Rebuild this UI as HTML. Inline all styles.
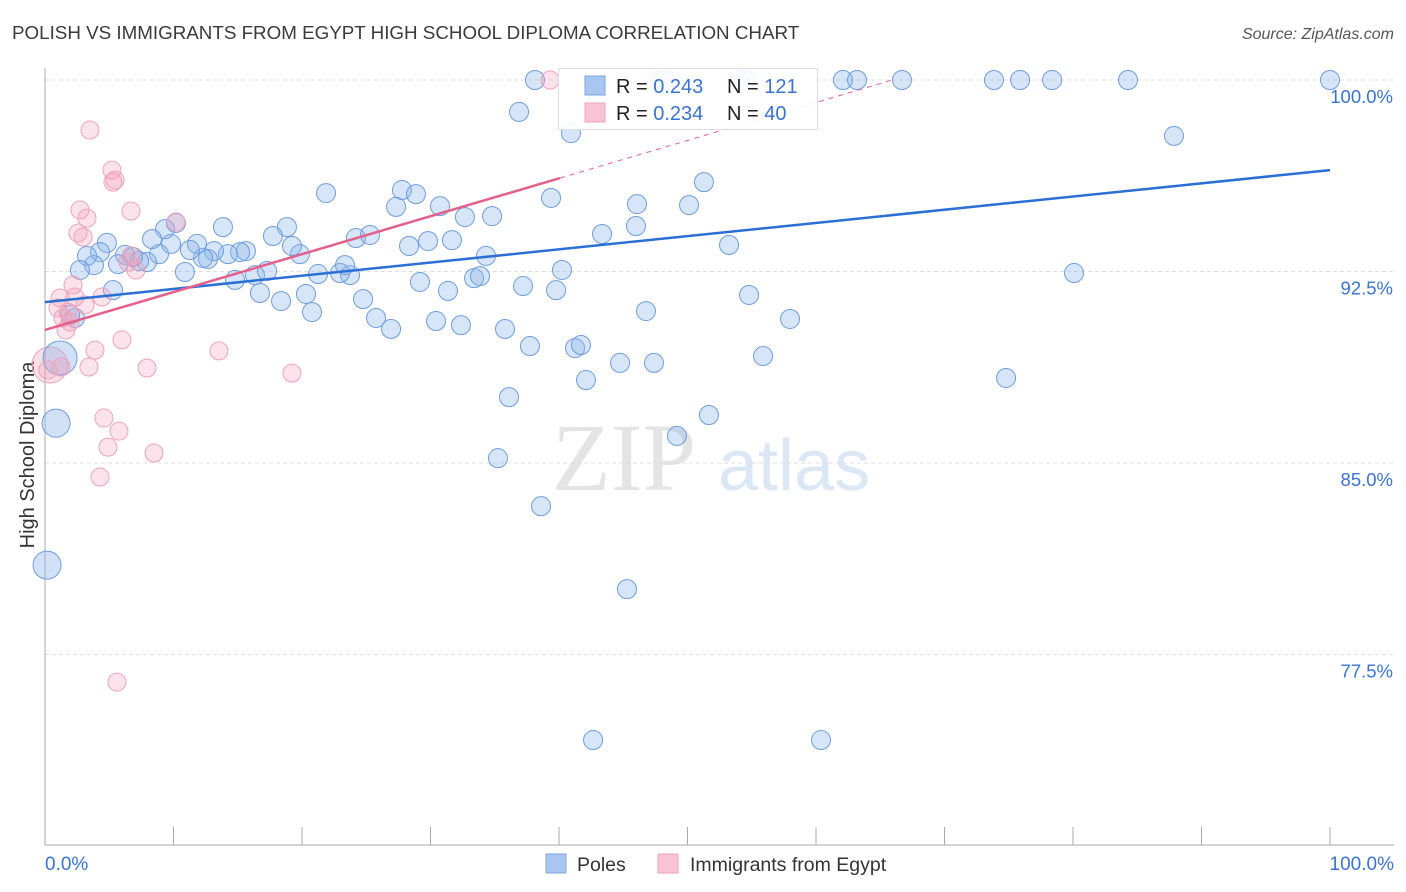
<!DOCTYPE html>
<html><head><meta charset="utf-8"><style>
body{margin:0;background:#fff;font-family:"Liberation Sans",sans-serif;}
svg{display:block}
</style></head><body>
<svg id="c" width="1406" height="892">
<text x="12" y="39" font-size="18.8" fill="#3a3a3a">POLISH VS IMMIGRANTS FROM EGYPT HIGH SCHOOL DIPLOMA CORRELATION CHART</text>
<text x="1394" y="39" font-size="16" fill="#555" text-anchor="end" font-style="italic">Source: ZipAtlas.com</text>
<text x="34" y="455" font-size="20" fill="#333" text-anchor="middle" transform="rotate(-90 34 455)">High School Diploma</text>
<g><text x="552" y="490" font-size="96" font-family="Liberation Serif,serif" fill="#e4e4e4">ZIP</text><text x="718" y="490" font-size="72" fill="#dce7f6">atlas</text></g>
<g id="grid"></g><g id="axes"></g><g id="pts"></g><g id="lines"></g>
<g>
<rect x="558.5" y="68.5" width="259" height="61" fill="#fff" fill-opacity="0.9" stroke="#ddd"/>
<rect x="585" y="76" width="20" height="19" fill="#a9c6f0" stroke="#7aa6e0"/>
<rect x="585" y="103" width="20" height="19" fill="#f8c4d3" stroke="#eea3b9"/>
<text x="616" y="93" font-size="20" fill="#222">R = <tspan fill="#3a73d0">0.243</tspan><tspan x="727">N = </tspan><tspan fill="#3a73d0">121</tspan></text>
<text x="616" y="120" font-size="20" fill="#222">R = <tspan fill="#3a73d0">0.234</tspan><tspan x="727">N = </tspan><tspan fill="#3a73d0">40</tspan></text>
</g>
<g>
<rect x="546" y="854" width="20" height="19" fill="#a9c6f0" stroke="#7aa6e0"/>
<text x="577" y="871" font-size="19.5" fill="#333">Poles</text>
<rect x="658" y="854" width="20" height="19" fill="#f8c4d3" stroke="#eea3b9"/>
<text x="690" y="871" font-size="19.5" fill="#333">Immigrants from Egypt</text>
</g>
</svg>
<script>
const yTicks=[100,92.5,85,77.5];
const yTickLabels=["100.0%","92.5%","85.0%","77.5%"];
const xTicks=[0,10,20,30,40,50,60,70,80,90,100];
const xEndLabels=["0.0%","100.0%"];
const polesPx=[[535,80],[660,80],[665,80],[740,80],[745,80],[843,80],[857,80],[902,80],[994,80],[1020,80],[1052,80],[1128,80],[1330,80],[519,112],[571,133],[1174,136],[1074,273],[1006,378],[763,356],[790,319],[749,295],[729,245],[704,182],[689,205],[637,204],[636,226],[602,234],[551,198],[562,270],[556,290],[523,286],[505,329],[530,346],[575,348],[581,345],[586,380],[620,363],[654,363],[646,311],[509,397],[498,458],[541,506],[627,589],[593,740],[821,740],[709,415],[677,436],[474,278],[480,276],[486,256],[461,325],[448,291],[436,321],[420,282],[391,329],[376,318],[363,299],[350,275],[340,273],[345,265],[318,274],[312,312],[306,294],[281,301],[260,293],[235,280],[255,275],[267,271],[300,254],[292,246],[287,227],[273,236],[246,251],[240,252],[228,254],[214,251],[208,259],[203,258],[197,244],[190,250],[185,272],[171,244],[165,229],[176,223],[159,254],[152,239],[147,262],[139,261],[133,257],[125,255],[118,264],[107,243],[100,252],[94,265],[87,256],[80,270],[113,290],[75,318],[70,315],[223,227],[326,193],[402,190],[416,194],[396,207],[440,206],[465,217],[492,216],[356,238],[370,235],[409,246],[428,241],[452,240]];
const polesBigPx=[[60,358,17],[56,423,14],[47,565,14]];
const egyptPx=[[90,130],[112,170],[115,180],[113,182],[131,211],[80,210],[87,218],[78,233],[83,237],[131,256],[136,270],[128,262],[176,222],[73,285],[75,297],[60,298],[58,308],[63,318],[68,312],[66,330],[70,322],[102,297],[85,305],[48,370],[95,350],[61,367],[89,367],[122,340],[219,351],[147,368],[292,373],[104,418],[119,431],[108,447],[154,453],[100,477],[117,682],[550,80]];
const egyptBigPx=[[50,365,18]];
const toX=p=>+((p-45)/12.85).toFixed(2), toY=p=>+(100-(p-80)/25.53).toFixed(2);
const polesX=polesPx.map(d=>toX(d[0])), polesY=polesPx.map(d=>toY(d[1]));
const polesBigX=polesBigPx.map(d=>toX(d[0])), polesBigY=polesBigPx.map(d=>toY(d[1]));
const egyptX=egyptPx.map(d=>toX(d[0])), egyptY=egyptPx.map(d=>toY(d[1]));
const egyptBigX=egyptBigPx.map(d=>toX(d[0])), egyptBigY=egyptBigPx.map(d=>toY(d[1]));
const polesTrend=[91.30,96.47];
const egyptTrend=[90.21,96.16];
const egyptTrendSolidEnd=40.08;

const X=v=>45+v*12.85, Y=v=>80+(100-v)*25.533;
const NS="http://www.w3.org/2000/svg";
function mk(t,a,p){const e=document.createElementNS(NS,t);for(const k in a)e.setAttribute(k,a[k]);p.appendChild(e);return e;}
const grid=document.getElementById('grid'),axes=document.getElementById('axes'),pts=document.getElementById('pts'),lines=document.getElementById('lines');
yTicks.forEach((t,i)=>{
 const l=mk('line',{x1:45,x2:1394,y1:Y(t),y2:Y(t),stroke:'#ddd','stroke-dasharray':'4,3'},grid);
 
 
 const tx=mk('text',{x:1393,y:Y(t)+23,'font-size':18.5,fill:'#3a73d0','text-anchor':'end'},grid);
 tx.textContent=yTickLabels[i];
 
 
});
const ya=mk('line',{x1:45,x2:45,y1:68,y2:845,stroke:'#aaa'},axes);


const xa=mk('line',{x1:45,x2:1394,y1:845,y2:845,stroke:'#aaa'},axes);


xTicks.forEach(t=>{
 const l=mk('line',{x1:X(t),x2:X(t),y1:827,y2:845,stroke:'#aaa'},axes);
 
 
});
[[0,'start',45],[100,'end',1394]].forEach((d,i)=>{
 const tx=mk('text',{x:d[2],y:870,'font-size':19,fill:'#3a73d0','text-anchor':d[1]},axes);
 tx.textContent=xEndLabels[i];
 
 
});
function dots(xs,ys,r,fill,stroke,name){xs.forEach((x,i)=>{
 const c=mk('circle',{cx:X(x),cy:Y(ys[i]),r:Array.isArray(r)?r[i]:r,fill:fill,stroke:stroke,'stroke-width':1},pts);
 
 
});}
dots(egyptBigX,egyptBigY,egyptBigPx.map(d=>d[2]),'rgba(240,150,175,0.3)','#eea3b9','egypt-point');
dots(polesBigX,polesBigY,polesBigPx.map(d=>d[2]),'rgba(140,180,235,0.4)','#6d9de0','poles-point');
dots(polesX,polesY,9.5,'rgba(140,180,235,0.35)','#6d9de0','poles-point');
dots(egyptX,egyptY,9,'rgba(245,160,185,0.3)','#eea3b9','egypt-point');
const bt=mk('line',{x1:X(0),y1:Y(polesTrend[0]),x2:X(100),y2:Y(polesTrend[1]),stroke:'#2a6fd6','stroke-width':2.5},lines);


const slope=(egyptTrend[1]-egyptTrend[0])/egyptTrendSolidEnd;
const pt=mk('line',{x1:X(0),y1:Y(egyptTrend[0]),x2:X(egyptTrendSolidEnd),y2:Y(egyptTrend[1]),stroke:'#e4608a','stroke-width':2.5},lines);


const xEnd=(100-egyptTrend[0])/slope;
const pd=mk('line',{x1:X(egyptTrendSolidEnd),y1:Y(egyptTrend[1]),x2:X(xEnd),y2:Y(100),stroke:'#e4608a','stroke-width':1,'stroke-dasharray':'5,5'},lines);


</script>
</body></html>
